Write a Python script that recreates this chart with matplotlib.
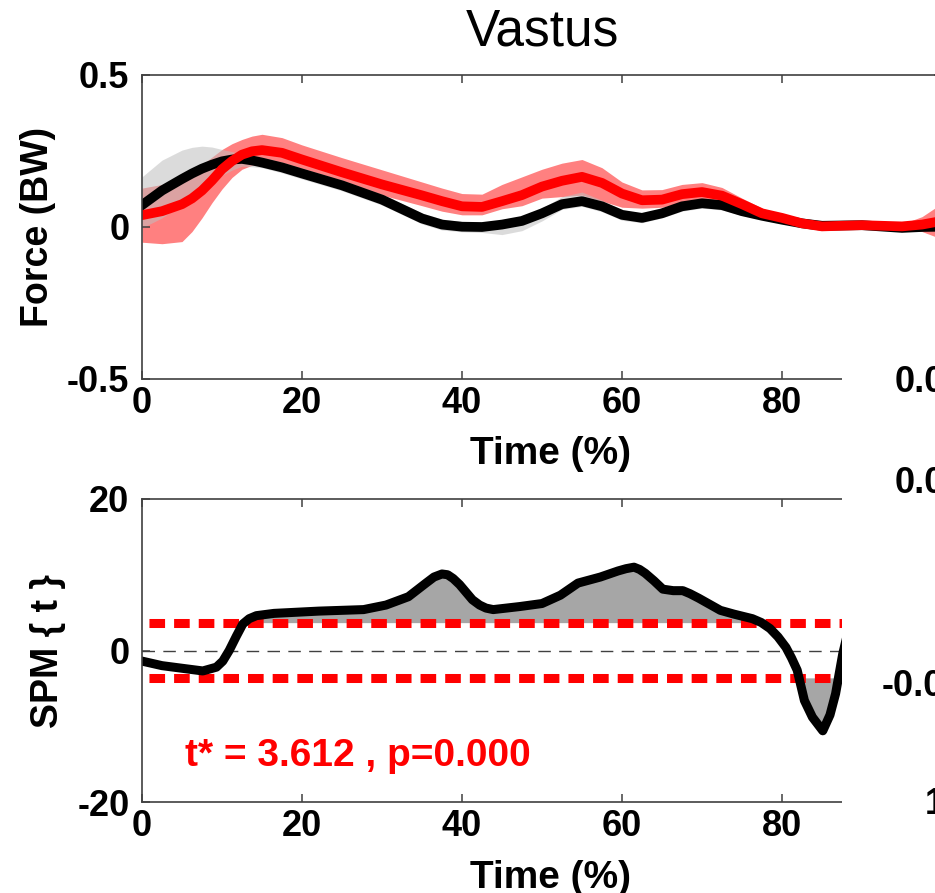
import numpy as np
import matplotlib
matplotlib.use('Agg')
import matplotlib.pyplot as plt
from matplotlib.patches import Rectangle

plt.rcParams['font.family'] = ['Liberation Sans', 'DejaVu Sans']
plt.rcParams['font.weight'] = 'bold'
plt.rcParams['axes.labelweight'] = 'bold'
plt.rcParams['axes.unicode_minus'] = False

# muscle force, mean and band edges (BW) for the two groups
t_force = [0, 2.5, 5, 6.25, 7.5, 8.75, 10, 11.25, 12.5, 13.75, 15, 17.5, 20, 25, 30, 35,
           37.5, 40, 42.5, 45, 47.5, 50, 52.5, 55, 57.5, 60, 62.5, 65, 67.5, 70, 72.5, 75,
           77.5, 80, 82.5, 85, 90, 95, 97.5, 100]
black_mean = [0.072, 0.120, 0.158, 0.176, 0.192, 0.205, 0.216, 0.222, 0.224, 0.219, 0.212,
              0.196, 0.176, 0.137, 0.090, 0.028, 0.008, 0.001, 0.000, 0.008, 0.020, 0.045,
              0.075, 0.085, 0.068, 0.040, 0.030, 0.045, 0.068, 0.078, 0.072, 0.052, 0.037,
              0.024, 0.012, 0.004, 0.006, -0.003, 0.000, 0.001]
black_hi = [0.165, 0.220, 0.253, 0.262, 0.266, 0.263, 0.255, 0.248, 0.240, 0.235, 0.230,
            0.214, 0.194, 0.155, 0.108, 0.046, 0.026, 0.018, 0.016, 0.022, 0.036, 0.062,
            0.100, 0.115, 0.088, 0.056, 0.045, 0.060, 0.084, 0.094, 0.088, 0.066, 0.050,
            0.035, 0.022, 0.014, 0.014, 0.006, 0.008, 0.010]
black_lo = [-0.003, 0.030, 0.075, 0.098, 0.120, 0.147, 0.170, 0.187, 0.200, 0.198, 0.195,
            0.178, 0.158, 0.119, 0.072, 0.010, -0.010, -0.016, -0.018, -0.025, -0.012, 0.020,
            0.058, 0.068, 0.050, 0.022, 0.014, 0.030, 0.052, 0.062, 0.056, 0.038, 0.024,
            0.013, 0.002, -0.006, -0.002, -0.012, -0.008, -0.008]
red_mean = [0.039, 0.052, 0.075, 0.094, 0.120, 0.153, 0.190, 0.217, 0.238, 0.249, 0.253,
            0.244, 0.222, 0.180, 0.140, 0.104, 0.085, 0.068, 0.066, 0.085, 0.105, 0.133,
            0.152, 0.165, 0.145, 0.110, 0.088, 0.090, 0.108, 0.115, 0.103, 0.075, 0.045,
            0.030, 0.012, 0.002, 0.006, 0.002, 0.008, 0.020]
red_hi = [0.128, 0.140, 0.160, 0.180, 0.205, 0.230, 0.255, 0.274, 0.288, 0.299, 0.305,
          0.294, 0.270, 0.228, 0.188, 0.148, 0.128, 0.110, 0.108, 0.140, 0.165, 0.190,
          0.210, 0.222, 0.195, 0.148, 0.122, 0.123, 0.140, 0.146, 0.130, 0.095, 0.062,
          0.040, 0.022, 0.012, 0.012, 0.010, 0.034, 0.078]
red_lo = [-0.050, -0.055, -0.048, -0.015, 0.030, 0.080, 0.125, 0.163, 0.190, 0.203, 0.210,
          0.205, 0.185, 0.145, 0.105, 0.070, 0.052, 0.040, 0.040, 0.060, 0.070, 0.095,
          0.100, 0.105, 0.085, 0.065, 0.062, 0.065, 0.080, 0.088, 0.078, 0.055, 0.030,
          0.020, 0.004, -0.008, 0.000, -0.006, -0.015, -0.040]

# SPM{t} trajectory and critical threshold
t_spm = [0, 2.5, 5.4, 7.6, 9.3, 10.1, 10.9, 11.8, 12.6, 13.4, 14.3, 16.5, 22.1, 27.7,
         30.5, 33.3, 35.5, 36.5, 37.5, 38.2, 38.9, 39.7, 40.5, 41.3, 42.2, 43.0, 43.9,
         47.2, 50.0, 52.3, 54.5, 57.3, 59.5, 60.5, 61.5, 62.2, 62.9, 64.0, 65.1, 66.4,
         67.6, 68.5, 69.6, 72.3, 74.0, 76.3, 77.4, 78.5, 79.5, 80.5, 81.2, 81.9, 82.8,
         83.8, 85.1, 86.0, 86.7, 87.6, 88.6]
spm = [-1.4, -2.0, -2.4, -2.7, -2.2, -1.4, 0.0, 1.9, 3.5, 4.2, 4.6, 4.9, 5.2, 5.4,
       6.0, 7.1, 8.9, 9.7, 10.1, 10.0, 9.5, 8.7, 7.7, 6.7, 6.0, 5.6, 5.4,
       5.8, 6.2, 7.3, 8.9, 9.7, 10.5, 10.8, 11.0, 10.7, 10.2, 9.2, 8.1, 7.9,
       7.9, 7.5, 6.9, 5.3, 4.8, 4.2, 3.7, 2.9, 1.8, 0.4, -1.0, -2.6, -6.6,
       -8.8, -10.6, -8.5, -5.7, -0.4, 4.0]
t_star = 3.612
p_val = 0.000

x_ticks = [0, 20, 40, 60, 80, 100]
x_ticklabels = ['0', '20', '40', '60', '80', '']

W, H = 935, 893
fig = plt.figure(figsize=(W / 100, H / 100), dpi=100)


def box(l, t, r, b):
    return [l / W, 1 - b / H, (r - l) / W, (b - t) / H]


ax1 = fig.add_axes(box(142, 75, 942, 379))
ax2 = fig.add_axes(box(142, 499, 942, 802))

for ax in (ax1, ax2):
    ax.set_xlim(0, 100)
    ax.set_xticks(x_ticks)
    ax.set_xticklabels(x_ticklabels)
    ax.tick_params(direction='in', length=6, width=1.1, color='#404040',
                   top=True, right=True, labelsize=26)
    ax.tick_params(axis='x', pad=5)
    ax.tick_params(axis='y', pad=9)
    for s in ax.spines.values():
        s.set_color('#404040')
        s.set_linewidth(1.2)

# top: force curves
t_force = np.array(t_force)
ax1.fill_between(t_force, red_lo, red_hi, color='#ff8080', lw=0)
ax1.fill_between(t_force, black_lo, black_hi, color='#bfbfbf', alpha=0.55, lw=0)
ax1.plot(t_force, black_mean, color='black', lw=7, solid_joinstyle='round')
ax1.plot(t_force, red_mean, color='red', lw=7, solid_joinstyle='round')
ax1.set_ylim(-0.5, 0.5)
ax1.set_yticks([-0.5, 0, 0.5])
ax1.set_yticklabels(['-0.5', '0', '0.5'])
ax1.set_title('Vastus', fontsize=37, fontweight='normal', pad=21)
ax1.set_xlabel('Time (%)', fontsize=28)
ax1.xaxis.set_label_coords(0.51, -0.28)
ax1.xaxis.label.set_va('baseline')
ax1.set_ylabel('Force (BW)', fontsize=27)
ax1.yaxis.set_label_coords(-0.13, 0.5)
ax1.yaxis.label.set_va('center')

# bottom: SPM{t}
t_spm = np.array(t_spm)
spm = np.array(spm)
ax2.fill_between(t_spm, spm, t_star, where=spm > t_star, interpolate=True,
                 color='#a6a6a6', lw=0)
ax2.fill_between(t_spm, spm, -t_star, where=spm < -t_star, interpolate=True,
                 color='#a6a6a6', lw=0)
ax2.axhline(0, color='#404040', lw=1, ls=(0, (9, 6)))
for thr in (t_star, -t_star):
    ax2.axhline(thr, color='red', lw=6.5, ls=(1.96, (1.73, 1.0)))
ax2.plot(t_spm, spm, color='black', lw=6.5, solid_joinstyle='round')
ax2.set_ylim(-20, 20)
ax2.set_yticks([-20, 0, 20])
ax2.set_xlabel('Time (%)', fontsize=28)
ax2.xaxis.set_label_coords(0.51, -0.284)
ax2.xaxis.label.set_va('baseline')
ax2.set_ylabel('SPM { t }', fontsize=27)
ax2.yaxis.set_label_coords(-0.117, 0.5)
ax2.yaxis.label.set_va('center')
ax2.text(5.4, -15.2, 't* = %.3f , p=%.3f' % (t_star, p_val), color='red',
         fontsize=28, va='baseline')

# neighbouring panel overlapping on the right
fig.add_artist(Rectangle((842 / W, 0), 1, 1 - 255 / H, transform=fig.transFigure,
                         facecolor='white', edgecolor='none', zorder=5))
for x, y, s in [(895, 383, '0.0'), (895, 483, '0.0'), (882, 687, '-0.0'), (925, 805, '1')]:
    fig.text(x / W, 1 - y / H, s, fontsize=26, va='center', ha='left', zorder=6)

fig.savefig('out.png', dpi=100)
